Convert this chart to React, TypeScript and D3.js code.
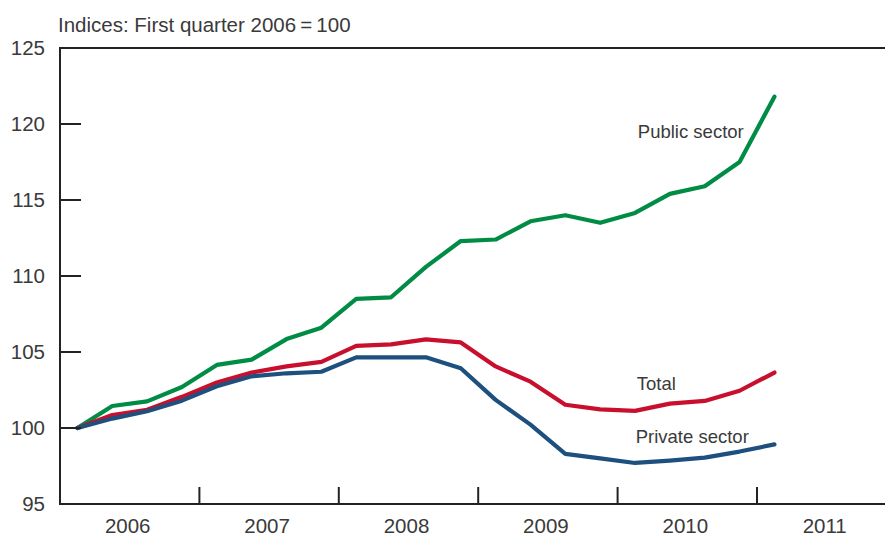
import React from "react";
import * as d3 from "d3";

const years = ["2006", "2007", "2008", "2009", "2010", "2011"];
const yTicks = [95, 100, 105, 110, 115, 120, 125];
const publicSector = [100, 101.45, 101.75, 102.7, 104.15, 104.5, 105.85, 106.6, 108.5, 108.6, 110.6, 112.3, 112.4, 113.6, 114.0, 113.5, 114.15, 115.4, 115.9, 117.5, 121.8];
const total = [100, 100.85, 101.2, 102.05, 103.0, 103.65, 104.05, 104.35, 105.4, 105.5, 105.83, 105.63, 104.05, 103.05, 101.53, 101.23, 101.13, 101.6, 101.78, 102.45, 103.65];
const privateSector = [100, 100.62, 101.1, 101.8, 102.75, 103.4, 103.6, 103.7, 104.65, 104.65, 104.65, 103.93, 101.85, 100.22, 98.3, 98.0, 97.7, 97.85, 98.05, 98.45, 98.92];

const W = 885;
const H = 537;
const left = 60;
const top = 48;
const bottom = 504;
const quarterW = 34.85;

export default function App() {
  const x = d3.scaleLinear().domain([0, 24]).range([left, left + 24 * quarterW]);
  const y = d3.scaleLinear().domain([95, 125]).range([bottom, top]);
  const line = d3
    .line<number>()
    .x((_, i) => x(i + 0.5))
    .y((d) => y(d));

  const series = [
    { data: publicSector, color: "#008c45" },
    { data: total, color: "#c8102e" },
    { data: privateSector, color: "#1d507e" },
  ];
  const font = "'Liberation Sans', Arial, Helvetica, sans-serif";
  const textColor = "#3a3a3a";
  const axisColor = "#222";

  return (
    <svg
      width={W}
      height={H}
      style={{ position: "absolute", left: 0, top: 0, background: "#fff" }}
      fontFamily={font}
    >
      <text x={58} y={32} fontSize={20.5} fill={textColor}>
        Indices: First quarter 2006{"\u2009"}={"\u2009"}100
      </text>

      {series.map((s, i) => (
        <path
          key={i}
          d={line(s.data) || ""}
          fill="none"
          stroke={s.color}
          strokeWidth={4.2}
          strokeLinejoin="round"
          strokeLinecap="round"
        />
      ))}

      {/* axes */}
      <line x1={left} x2={W} y1={y(125)} y2={y(125)} stroke={axisColor} strokeWidth={2} />
      <line x1={left} x2={W} y1={y(95)} y2={y(95)} stroke={axisColor} strokeWidth={2} />
      <line x1={left} x2={left} y1={y(125) - 1} y2={y(95) + 1} stroke={axisColor} strokeWidth={2} />

      {yTicks.map((t) => (
        <g key={t}>
          {t > 95 && t < 125 && (
            <line x1={left} x2={left + 21} y1={y(t)} y2={y(t)} stroke={axisColor} strokeWidth={2} />
          )}
          <text
            x={45}
            y={y(t)}
            dy="0.36em"
            textAnchor="end"
            fontSize={20.5}
            fill={textColor}
          >
            {t}
          </text>
        </g>
      ))}

      {years.map((yr, i) => (
        <g key={yr}>
          {i > 0 && (
            <line
              x1={x(i * 4)}
              x2={x(i * 4)}
              y1={bottom}
              y2={bottom - 17}
              stroke={axisColor}
              strokeWidth={2}
            />
          )}
          <text
            x={x(i * 4 + 2) - 2}
            y={533}
            textAnchor="middle"
            fontSize={20.5}
            fill={textColor}
          >
            {yr}
          </text>
        </g>
      ))}

      <text x={x(16.58)} y={y(119.1)} fontSize={18.5} fill={textColor}>
        Public sector
      </text>
      <text x={x(16.55)} y={y(102.5)} fontSize={18.5} fill={textColor}>
        Total
      </text>
      <text x={x(16.52)} y={y(99.0)} fontSize={18.5} fill={textColor}>
        Private sector
      </text>
    </svg>
  );
}
